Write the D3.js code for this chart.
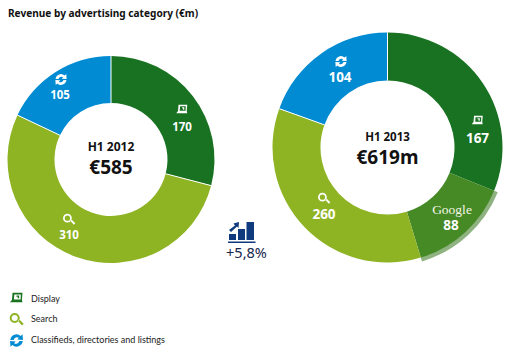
<!DOCTYPE html>
<html><head><meta charset="utf-8">
<style>html,body{margin:0;padding:0;background:#fff}svg{display:block}text{font-family:"Noto Sans",sans-serif}</style>
<script src="https://cdn.jsdelivr.net/npm/d3@7"></script></head><body>
<svg id="c" width="516" height="363"></svg>
<script>
const categories2012 = ["Display","Search","Classifieds"];
const values2012 = [170,310,105];
const categories2013 = ["Display","Google","Search","Classifieds"];
const labels2013 = [167,88,260,104];
// the 2013 ring is not drawn in proportion to its printed labels: these are the slice sizes
const drawnShares2013 = [193,88,218,121];
const legendLabels = ["Display","Search","Classifieds, directories and listings"];
const colors = {Display:"#187221",Search:"#8eb424",Classifieds:"#008bd2",Google:"#468a26"};
const svg = d3.select("#c");
const iconPaths = {
 Display:"M-5.5,4 L-3.8,2 L-3.3,-4 L5,-4 L4.5,2 L5,4 Z M-1.8,-2.6 L-2.2,1.6 L3.4,1.6 L3.6,-2.6 Z M0,-1.6 L2.2,-1.6 L2.2,0.6 L1,0.6 L1,-0.6 L0,-0.6 Z",
 Search:"M-5.7,-1.3 A4.2,4.2 0 1 1 2.7,-1.3 A4.2,4.2 0 1 1 -5.7,-1.3 Z M-4,-1.3 A2.5,2.5 0 1 0 1,-1.3 A2.5,2.5 0 1 0 -4,-1.3 Z M1.2,1.2 L2.4,0 L6,3.6 L4.6,5 Z",
 Classifieds:"M-5.2,-0.5 A5.2,5.2 0 0 1 3.5,-3.7 L5,-5.2 L5.4,-0.5 L0.7,-0.8 L2,-2.2 A2.9,2.9 0 0 0 -2.4,-0.5 Z M5.2,0.5 A5.2,5.2 0 0 1 -3.5,3.7 L-5,5.2 L-5.4,0.5 L-0.7,0.8 L-2,2.2 A2.9,2.9 0 0 0 2.4,0.5 Z"
};
function icon(g,name,x,y,fill,k){
  g.append("path").attr("d",iconPaths[name]).attr("fill-rule","evenodd").attr("fill",fill)
   .attr("transform",`translate(${x},${y}) scale(${k})`);
}
function donut(o){
  const g = svg.append("g").attr("transform",`translate(${o.cx},${o.cy})`);
  const arcs = d3.pie().sort(null).value(d=>d.v)(o.data);
  const arc = d3.arc().innerRadius(o.ri).outerRadius(o.ro);
  arcs.filter(a=>a.data.k==="Google").forEach(a=>{
    g.append("path").attr("d",d3.arc().innerRadius(o.ro-1).outerRadius(o.ro+4)(a)).attr("fill","#8fb281");
  });
  g.selectAll("path.s").data(arcs).enter().append("path").attr("class","s")
   .attr("d",arc).attr("fill",d=>colors[d.data.k]);
  arcs.forEach((a,i)=>{
    const prev = o.data[(i+o.data.length-1)%o.data.length].k;
    if(a.data.k==="Google"||prev==="Google") return;
    const p0=d3.pointRadial(a.startAngle,o.ri), p1=d3.pointRadial(a.startAngle,o.ro);
    g.append("line").attr("x1",p0[0]).attr("y1",p0[1]).attr("x2",p1[0]).attr("y2",p1[1]).attr("stroke","#fff").attr("stroke-width",1);
  });
  o.data.forEach((d,i)=>{
    const p=o.pos[i];
    if(d.k==="Google"){
      g.append("text").attr("x",p[0]+1).attr("y",p[1]-11).attr("text-anchor","middle").attr("fill","#f4f6e6")
       .style("font-family","'Liberation Serif',serif").style("font-size","13.5px").text("Google");
    } else icon(g,d.k,p[0]+(d.k==="Classifieds"?1:0),p[1]+(d.k==="Display"?-18:-15.5),"#fff",1.05);
    g.append("text").attr("x",p[0]).attr("y",p[1]+o.ls*0.36).attr("text-anchor","middle").attr("fill","#fff")
     .attr("font-weight",700).style("font-size",o.ls+"px").text(d.l);
  });
  g.append("text").attr("y",o.t1y).attr("text-anchor","middle").attr("font-weight",700).attr("fill","#111").style("font-size",o.t1s+"px").text(o.t1);
  g.append("text").attr("y",o.t2y).attr("text-anchor","middle").attr("font-weight",700).attr("fill","#111").style("font-size",o.t2s+"px").text(o.t2);
}
donut({cx:111,cy:159.5,ri:56.5,ro:103.5,
  data:categories2012.map((k,i)=>({k,v:values2012[i],l:values2012[i]})),
  pos:[[71,-32.5],[-42,75.5],[-51,-64.5]],ls:11.5,
  t1:"H1 2012",t1y:-8.5,t1s:12,t2:"€585",t2y:14.5,t2s:19});
donut({cx:387.5,cy:147.5,ri:67,ro:115,
  data:categories2013.map((k,i)=>({k,v:drawnShares2013[i],l:labels2013[i]})),
  pos:[[90,-9.5],[63.5,77.5],[-63.5,66.5],[-47.5,-70.5]],ls:13.5,
  t1:"H1 2013",t1y:-6.5,t1s:11.5,t2:"€619m",t2y:16.5,t2s:19});
svg.append("text").attr("x",8).attr("y",17).attr("font-weight",700).attr("fill","#111").style("font-size","10.1px").text("Revenue by advertising category (€m)");
legendLabels.forEach((t,i)=>{
  const y=[298,320,341][i], k=["Display","Search","Classifieds"][i];
  icon(svg,k,16.5,y-0.5,colors[k],1.2);
  svg.append("text").attr("x",31).attr("y",[302,322,343][i]).attr("fill","#222").style("font-family","Lato").style("font-size","9px").text(t);
});
const up=svg.append("g").attr("fill","#0f3a7d");
[[229,234,7,6],[238,229,7,11],[246.5,222,7.5,18]].forEach(b=>up.append("rect").attr("x",b[0]).attr("y",b[1]).attr("width",b[2]).attr("height",b[3]));
up.append("rect").attr("x",228).attr("y",241.5).attr("width",27.5).attr("height",1.5);
up.append("path").attr("d","M229,230 L235,225.5 L233.5,223.5 L239,222 L238.5,228 L237,226.5 L231,232 Z");
svg.append("text").attr("x",246.5).attr("y",258).attr("text-anchor","middle").attr("fill","#16264d").style("font-size","14.5px").text("+5,8%");
</script></body></html>
